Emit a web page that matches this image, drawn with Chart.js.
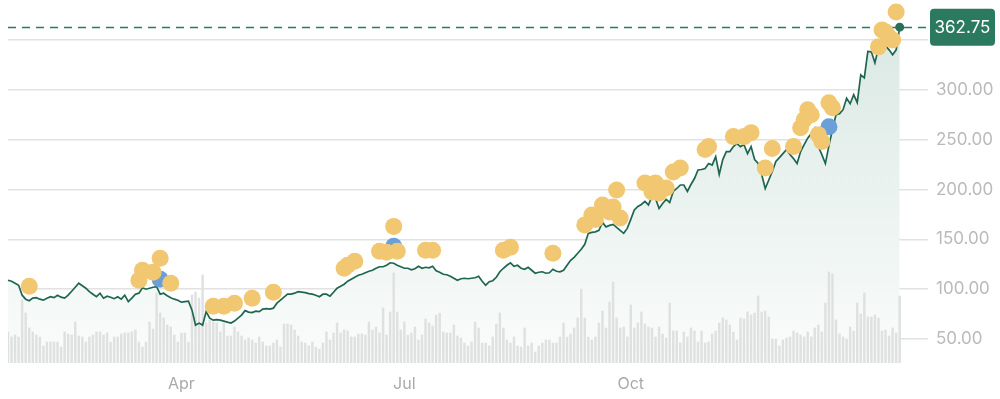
<!DOCTYPE html>
<html>
<head>
<meta charset="utf-8">
<script src="https://cdn.jsdelivr.net/npm/chart.js@4"></script>
<style>
  html, body { margin: 0; padding: 0; background: #fff; }
  #wrap { width: 1000px; height: 399px; }
</style>
</head>
<body>
<div id="wrap"><canvas id="chart"></canvas></div>
<script>
// daily closes, Jan 19 2024 -> Jan 22 2025
const prices = [
  109, 108, 106, 104, 94, 90, 88.5, 91, 91.5, 90,
  89, 91, 92.5, 91.5, 94, 92, 91, 94, 98, 102,
  106, 103.5, 101, 97.5, 95, 92.5, 96, 91, 93, 92,
  90.5, 92.5, 90, 94, 87.5, 91, 95, 96, 101.5, 100,
  101, 102, 102.5, 95, 96, 93.5, 91.5, 90, 89, 87,
  87.5, 88, 79, 64, 66, 64, 77.5, 71, 69, 69.5,
  69, 68, 67, 66, 68, 71, 74, 78.5, 77, 76.5,
  78, 77.5, 80, 80.5, 80, 81, 86, 89, 92, 95,
  95, 96, 97.5, 97, 96.5, 95.5, 95, 94, 92.5, 95,
  95, 93, 97, 101, 103, 105, 108, 110, 112, 114,
  115, 116.5, 118, 119, 121, 122.5, 122.5, 124, 126.5, 126,
  124, 122.5, 121, 121, 119.5, 120.5, 123, 121, 122, 121.5,
  123, 118.5, 117, 115, 114.5, 113, 111, 109, 110.5, 111,
  110.5, 111, 111.5, 113, 108, 104, 107.5, 108.5, 112, 117.5,
  121, 124, 126.5, 123, 124, 121, 120, 122, 119, 116,
  117, 117.5, 116, 116.5, 120, 118, 117.5, 119, 124, 129,
  132, 136, 140, 145, 156, 157, 157.5, 159, 167, 162.5,
  164, 165, 162, 159, 156, 161, 170, 179.5, 183, 185,
  188, 184.5, 193, 191, 181, 186, 190, 187, 198, 201,
  204.5, 204.5, 198, 205, 211, 219.5, 220, 221, 226, 224.5,
  233, 215, 230, 238, 238, 243, 246, 243, 245, 236,
  243, 230, 226, 215, 201, 209.5, 218, 228, 232, 236,
  240, 235, 231, 226, 238, 245, 251.5, 256, 261.5, 243,
  235, 226, 244, 260, 275, 276, 280, 291.5, 286, 295,
  287, 315, 312, 338.5, 338, 327, 342, 349, 344, 340,
  335, 340, 362.75
];

// volume, millions
const volumes = [
  31, 26, 28, 26, 63, 50, 35, 31, 28, 26,
  17, 21, 21, 21, 21, 16, 31, 29, 28, 41,
  27, 26, 21, 26, 28, 31, 31, 28, 30, 21,
  26, 26, 29, 30, 30, 31, 33, 21, 16, 21,
  41, 34, 70, 50, 45, 38, 36, 28, 21, 30,
  30, 21, 68, 71, 65, 88, 40, 43, 41, 40,
  31, 40, 27, 27, 36, 31, 27, 23, 25, 23,
  20, 26, 21, 17, 17, 20, 23, 16, 39, 39,
  38, 33, 27, 21, 20, 17, 21, 16, 14, 20,
  31, 23, 30, 40, 30, 33, 32, 26, 26, 29,
  29, 28, 41, 33, 36, 30, 55, 28, 51, 90,
  51, 33, 41, 28, 30, 36, 23, 28, 44, 40,
  37, 48, 50, 31, 30, 30, 38, 27, 25, 20,
  17, 21, 41, 35, 20, 20, 17, 26, 39, 50,
  35, 23, 20, 26, 17, 16, 35, 17, 20, 11,
  17, 20, 23, 23, 20, 20, 26, 40, 26, 29,
  35, 45, 74, 45, 26, 23, 26, 40, 52, 35,
  61, 81, 45, 35, 36, 26, 58, 35, 40, 51,
  39, 36, 35, 26, 36, 29, 25, 60, 32, 32,
  20, 31, 26, 35, 32, 21, 32, 20, 21, 29,
  32, 40, 45, 43, 38, 31, 23, 45, 44, 51,
  48, 50, 67, 51, 52, 46, 24, 24, 17, 23,
  25, 26, 32, 30, 28, 26, 31, 26, 35, 38,
  31, 60, 91, 89, 43, 29, 26, 24, 36, 32,
  60, 49, 70, 46, 46, 48, 45, 32, 33, 27,
  35, 30, 67
];

// event markers: [day index, price level]
const yellowDots = [
  [6, 103], [37, 109], [38, 119], [41, 117], [43, 131], [46, 106],
  [58, 83], [61, 83], [64, 86], [69, 91], [75, 97],
  [95, 121], [96, 124], [98, 128], [105, 138], [107, 137], [109, 163], [110, 138],
  [118, 139], [120, 139], [140, 139], [142, 142], [154, 136],
  [163, 164.5], [165, 174.5], [166, 170], [168, 184.5], [170, 177.5], [171, 182.5], [172, 199.5], [173, 171.5],
  [180, 206.5], [182, 197.5], [183, 206.5], [184, 196.5], [186, 201.5], [188, 217.5], [190, 221.5],
  [197, 240], [198, 243], [205, 253], [208, 253], [210, 257], [214, 221.5], [216, 241],
  [222, 243], [224, 262], [225, 270], [226, 280], [227, 275], [229, 255], [230, 248], [232, 287], [233, 282],
  [246, 343], [247, 360], [248, 358], [249, 353], [250, 350], [251, 378]
];
const blueDots = [[43, 110], [109, 143], [232, 263]];

const yTicks = [50, 100, 150, 200, 250, 300, 350];
const monthLabels = { 4: 'Apr', 7: 'Jul', 10: 'Oct' };
const holidays = ['2024-01-15', '2024-02-19', '2024-03-29', '2024-05-27', '2024-06-19', '2024-07-04',
  '2024-09-02', '2024-11-28', '2024-12-25', '2025-01-01', '2025-01-09', '2025-01-20'];

const lastPrice = prices[prices.length - 1];

function tradingDays(start, n) {
  const out = [];
  const d = new Date(start + 'T12:00:00Z');
  while (out.length < n) {
    const iso = d.toISOString().slice(0, 10);
    const wd = d.getUTCDay();
    if (wd !== 0 && wd !== 6 && !holidays.includes(iso)) out.push(iso);
    d.setUTCDate(d.getUTCDate() + 1);
  }
  return out;
}

// a few empty sessions after the last close
const dates = tradingDays('2024-01-19', prices.length + 8);
const toPoints = list => list.map(([i, v]) => ({ x: dates[i], y: v }));

Chart.defaults.font.family = 'Inter, Roboto, sans-serif';

const lastPriceMarker = {
  id: 'lastPriceMarker',
  beforeDatasetsDraw(chart) {
    const { ctx, chartArea, scales } = chart;
    const py = Math.round(scales.y.getPixelForValue(lastPrice)) + 0.5;
    ctx.save();
    ctx.strokeStyle = '#2b7a60';
    ctx.lineWidth = 1.5;
    ctx.setLineDash([8, 6]);
    ctx.beginPath();
    ctx.moveTo(chartArea.left, py);
    ctx.lineTo(chartArea.right + 4, py);
    ctx.stroke();
    ctx.restore();
  },
  afterDraw(chart) {
    const { ctx, scales } = chart;
    const py = scales.y.getPixelForValue(lastPrice);
    const x = 930, w = 65, h = 37;
    ctx.save();
    ctx.fillStyle = '#2b7a60';
    ctx.beginPath();
    ctx.roundRect(x, py - h / 2, w, h, 4);
    ctx.fill();
    ctx.fillStyle = '#fff';
    ctx.font = '17px Inter, Roboto, sans-serif';
    ctx.textAlign = 'center';
    ctx.textBaseline = 'middle';
    ctx.fillText(lastPrice.toFixed(2), x + w / 2, py + 1);
    ctx.restore();
  }
};

const canvas = document.getElementById('chart');
new Chart(canvas, {
  type: 'line',
  data: {
    labels: dates,
    datasets: [
      {
        type: 'line',
        data: toPoints([[prices.length - 1, lastPrice]]),
        showLine: false,
        pointRadius: 4.5,
        pointBorderWidth: 0,
        pointBackgroundColor: '#2a6f59',
        order: -1
      },
      {
        type: 'line',
        data: toPoints(yellowDots),
        showLine: false,
        pointRadius: 8.5,
        pointBorderWidth: 0,
        pointBackgroundColor: '#f1c772',
        order: 0
      },
      {
        type: 'line',
        data: toPoints(blueDots),
        showLine: false,
        pointRadius: 8.5,
        pointBorderWidth: 0,
        pointBackgroundColor: '#6b9fd7',
        order: 1
      },
      {
        type: 'line',
        data: prices,
        borderColor: '#1f6650',
        borderWidth: 1.7,
        pointRadius: 0,
        tension: 0,
        fill: 'start',
        backgroundColor: ctx => {
          const area = ctx.chart.chartArea;
          if (!area) return 'rgba(220,233,228,0.6)';
          const g = ctx.chart.ctx.createLinearGradient(0, area.top, 0, area.bottom);
          g.addColorStop(0, '#d8e7e1');
          g.addColorStop(1, '#fafcfb');
          return g;
        },
        order: 2
      },
      {
        type: 'bar',
        data: volumes,
        yAxisID: 'vol',
        backgroundColor: '#dfe1e1',
        barThickness: 1.8,
        order: 3
      }
    ]
  },
  options: {
    responsive: true,
    maintainAspectRatio: false,
    animation: false,
    layout: { autoPadding: false, padding: { left: 8, right: 0, top: 0, bottom: 0 } },
    plugins: {
      legend: { display: false },
      tooltip: { enabled: false },
      filler: { drawTime: 'beforeDatasetsDraw' }
    },
    scales: {
      x: {
        offset: false,
        grid: { display: false },
        border: { display: false },
        ticks: {
          autoSkip: false,
          maxRotation: 0,
          minRotation: 0,
          padding: 4,
          color: '#aaaaaa',
          font: { size: 16 },
          callback: (value, index) => {
            const d = dates[index], prev = dates[index - 1];
            if (!d || !prev || d.slice(5, 7) === prev.slice(5, 7)) return '';
            return monthLabels[+d.slice(5, 7)] || '';
          }
        },
        afterFit: s => { s.height = 36; s.paddingLeft = 0; s.paddingRight = 0; }
      },
      y: {
        position: 'right',
        min: 26,
        max: 390,
        grid: { color: '#e2e2e2', lineWidth: 1.5, drawTicks: false },
        border: { display: false },
        ticks: {
          padding: 8,
          color: '#bababa',
          font: { size: 17 },
          callback: v => Math.abs(v - lastPrice) < 20 ? '' : Number(v).toFixed(2)
        },
        afterBuildTicks: s => { s.ticks = yTicks.map(v => ({ value: v })); },
        afterFit: s => { s.width = 72; s.paddingTop = 0; s.paddingBottom = 0; }
      },
      vol: {
        display: false,
        min: 0,
        max: 363
      }
    }
  },
  plugins: [lastPriceMarker]
});
</script>
</body>
</html>
